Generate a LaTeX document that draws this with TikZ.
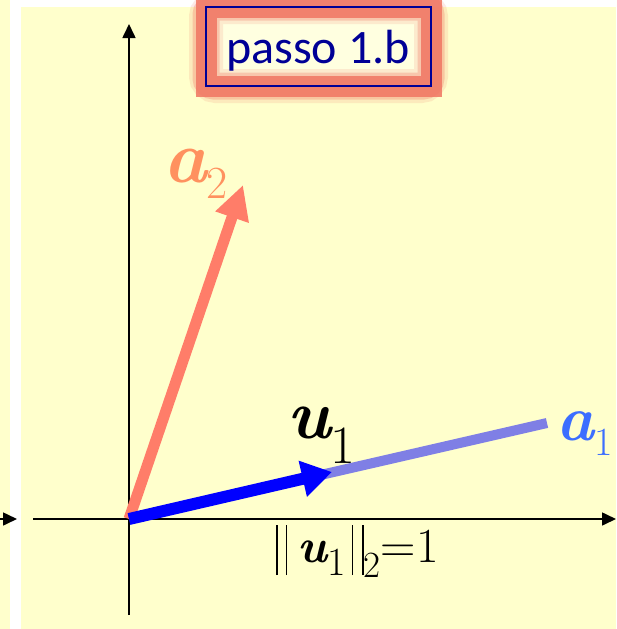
\documentclass[tikz,border=0pt]{standalone}
\usepackage{fontspec}
\newfontfamily\carlito{Carlito}
\usetikzlibrary{arrows.meta}
\definecolor{slidebg}{RGB}{255,255,204}
\definecolor{boxfill}{RGB}{255,255,224}
\definecolor{glow}{RGB}{240,118,98}
\definecolor{navy}{RGB}{0,0,150}
\definecolor{salmon}{RGB}{255,125,105}
\definecolor{peach}{RGB}{255,145,95}
\definecolor{skyblue}{RGB}{60,110,255}
\newcommand{\vlab}[5]{{\fontsize{#1}{#1}\selectfont\rmfamily\bfseries\itshape #2}\raisebox{-#5}{\fontsize{#3}{#3}\selectfont\rmfamily #4}}
\newcommand{\nbar}{\rule[-13pt]{1.6pt}{50pt}}

\begin{document}
\begin{tikzpicture}[x=1pt,y=-1pt,
  axis/.style={line width=1.6pt,-{Triangle[length=14pt,width=13pt]}},
  lab/.style={anchor=base west,inner sep=0pt}]
	\useasboundingbox (0,0) rectangle (616,629);
	\fill[white] (0,0) rectangle (616,629);
	\fill[slidebg] (0,0) rectangle (10,629);
	\fill[slidebg] (21,7) rectangle (616,629);

	\coordinate (O) at (129,519);
	\coordinate (xl) at (33,519);
	\coordinate (xr) at (616,519);
	\coordinate (yb) at (129,615);
	\coordinate (yt) at (129,24);
	\coordinate (prevl) at (-10,519);
	\coordinate (prevr) at (17,519);
	\coordinate (a1end) at (547,423);
	\coordinate (u1tip) at (332,472);
	\coordinate (a2tip) at (243,185);

	\draw[axis] (prevl) -- (prevr);
	\draw[axis] (xl) -- (xr);
	\draw[axis] (yb) -- (yt);

	\draw[salmon,line width=11pt,-{Triangle[length=34pt,width=33pt]}] (O) -- (a2tip);
	\draw[blue,opacity=.5,line width=10pt] (O) -- (a1end);
	\draw[blue,line width=12pt,-{Triangle[length=30pt,width=35pt]}] (O) -- (u1tip);

	\node[lab,peach] (a2lab) at (163,182) {\vlab{74}{a}{46}{2}{16pt}};
	\node[lab,skyblue] (a1lab) at (556,440) {\vlab{64}{a}{40}{1}{15pt}};
	\node[lab] (u1lab) at (287,438) {\vlab{70}{u}{54}{1}{25pt}};
	\node[lab] (norm) at (276,562) {\nbar\hspace{8pt}\nbar\hspace{10pt}\vlab{48}{u}{40}{1}{13pt}\hspace{6pt}\nbar\hspace{9pt}\nbar\raisebox{-15pt}{\fontsize{37}{37}\selectfont 2}{\fontsize{49}{49}\selectfont =1}};

	\fill[boxfill] (206,7) rectangle (431,86);
	\draw[glow,line width=34pt,opacity=.15,rounded corners=10pt] (206,7) rectangle (431,86);
	\draw[glow,line width=27pt,opacity=.3,rounded corners=8pt] (206,7) rectangle (431,86);
	\draw[glow,line width=21pt,opacity=.85] (206,7) rectangle (431,86);
	\draw[navy,line width=1.2pt] (206,7) rectangle (431,86);
	\node[navy,anchor=base,inner sep=0pt] (step) at (318,63) {\carlito\fontsize{48}{48}\selectfont passo 1.b};
\end{tikzpicture}
\end{document}
